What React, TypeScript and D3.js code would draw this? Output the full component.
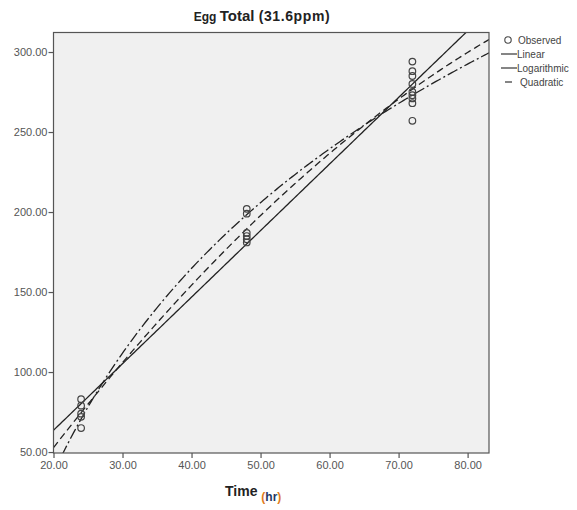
import React, { useEffect, useRef } from 'react'
import * as d3 from 'd3'

// observed egg totals
const obsTime = [24, 24, 24, 24, 24, 48, 48, 48, 48, 48, 48, 72, 72, 72, 72, 72, 72, 72, 72, 72]
const obsValue = [83, 79, 74, 72, 65, 202, 199, 187, 185, 183, 181, 294, 288, 285, 280, 275, 273, 271, 268, 257]

const xTicks = [20, 30, 40, 50, 60, 70, 80]
const yTicks = [50, 100, 150, 200, 250, 300]
const legendItems = ['Observed', 'Linear', 'Logarithmic', 'Quadratic']

// solve small linear system (gaussian elimination)
function solve(A: number[][], b: number[]) {
  const n = b.length
  const M = A.map((r, i) => [...r, b[i]])
  for (let i = 0; i < n; i++) {
    let p = i
    for (let k = i + 1; k < n; k++) if (Math.abs(M[k][i]) > Math.abs(M[p][i])) p = k
    ;[M[i], M[p]] = [M[p], M[i]]
    for (let k = i + 1; k < n; k++) {
      const f = M[k][i] / M[i][i]
      for (let j = i; j <= n; j++) M[k][j] -= f * M[i][j]
    }
  }
  const x = new Array(n).fill(0)
  for (let i = n - 1; i >= 0; i--) {
    let s = M[i][n]
    for (let j = i + 1; j < n; j++) s -= M[i][j] * x[j]
    x[i] = s / M[i][i]
  }
  return x
}

function polyFit(xs: number[], ys: number[], deg: number) {
  const A: number[][] = []
  const b: number[] = []
  for (let i = 0; i <= deg; i++) {
    A.push([])
    for (let j = 0; j <= deg; j++) A[i].push(d3.sum(xs, (x) => Math.pow(x, i + j)))
    b.push(d3.sum(xs, (x, k) => Math.pow(x, i) * ys[k]))
  }
  return solve(A, b)
}

function App() {
  const ref = useRef<SVGSVGElement>(null)

  useEffect(() => {
    const svg = d3.select(ref.current)
    svg.selectAll('*').remove()

    const left = 53.5, right = 489, top = 32.5, bottom = 453
    const x = d3.scaleLinear().domain([20, 83.1]).range([left, right])
    const y = d3.scaleLinear().domain([49.4, 312.2]).range([bottom, top])

    // title
    const title = svg.append('text')
      .attr('x', 262).attr('y', 21)
      .attr('text-anchor', 'middle')
      .style('font-family', 'Liberation Sans, Arial, sans-serif')
      .style('font-weight', 'bold')
      .style('fill', '#222')
    title.append('tspan').style('font-size', '12px').text('Egg ')
    title.append('tspan').style('font-size', '15px').text('Total ')
    title.append('tspan').style('font-size', '14px').style('letter-spacing', '0.6px').text(' (31.6ppm)')

    svg.append('defs').append('clipPath').attr('id', 'plotclip')
      .append('rect').attr('x', left).attr('y', top).attr('width', right - left).attr('height', bottom - top)

    svg.append('rect')
      .attr('x', left).attr('y', top).attr('width', right - left).attr('height', bottom - top)
      .style('fill', '#f0f0f0')

    const plot = svg.append('g').attr('clip-path', 'url(#plotclip)')

    // fits
    const lin = polyFit(obsTime, obsValue, 1)
    const quad = polyFit(obsTime, obsValue, 2)
    const logc = polyFit(obsTime.map(Math.log), obsValue, 1)
    const xs = d3.range(200).map((i) => 20 + (i / 199) * 63.1)

    const line = d3.line<number>().x((t) => x(t))
    const fits = [
      { f: (t: number) => lin[0] + lin[1] * t, dash: null },
      { f: (t: number) => logc[0] + logc[1] * Math.log(t), dash: '11,3,2,3' },
      { f: (t: number) => quad[0] + quad[1] * t + quad[2] * t * t, dash: '7,4' },
    ]
    fits.forEach((fit) => {
      plot.append('path')
        .attr('d', line.y((t) => y(fit.f(t)))(xs))
        .style('fill', 'none')
        .style('stroke', '#222')
        .style('stroke-width', 1.3)
        .style('stroke-dasharray', fit.dash)
    })

    plot.selectAll('circle.obs')
      .data(obsTime)
      .enter()
      .append('circle')
      .attr('cx', (d) => x(d))
      .attr('cy', (d, i) => y(obsValue[i]))
      .attr('r', 3.3)
      .style('fill', 'none')
      .style('stroke', '#444')
      .style('stroke-width', 1.2)

    // frame
    svg.append('rect')
      .attr('x', left).attr('y', top).attr('width', right - left).attr('height', bottom - top)
      .style('fill', 'none').style('stroke', '#555').style('stroke-width', 1.2)

    const xAxis = svg.append('g').attr('transform', `translate(0,${bottom})`)
      .call(d3.axisBottom(x).tickValues(xTicks).tickFormat(d3.format('.2f')).tickSize(5).tickSizeOuter(0))
    const yAxis = svg.append('g').attr('transform', `translate(${left},0)`)
      .call(d3.axisLeft(y).tickValues(yTicks).tickFormat(d3.format('.2f')).tickSize(5).tickSizeOuter(0))
    ;[xAxis, yAxis].forEach((a) => {
      a.select('.domain').remove()
      a.selectAll('line').style('stroke', '#555').style('stroke-width', 1.2)
      a.selectAll('text')
        .style('font-family', 'Liberation Sans, Arial, sans-serif')
        .style('font-size', '11px')
        .style('fill', '#555')
    })
    yAxis.selectAll('text').attr('x', -6).attr('dy', '0.35em')
    xAxis.selectAll('text').attr('y', 8)

    // x axis title
    const xt = svg.append('text')
      .attr('x', 225).attr('y', 496)
      .style('font-family', 'Liberation Sans, Arial, sans-serif')
      .style('font-weight', 'bold')
    xt.append('tspan').style('font-size', '14px').style('fill', '#222').text('Time ')
    xt.append('tspan').attr('dy', 5).style('font-size', '12px').style('fill', '#e07b20').text('(')
    xt.append('tspan').style('font-size', '12px').style('fill', '#1f3864').text('hr')
    xt.append('tspan').style('font-size', '12px').style('fill', '#e07b20').text(')')

    // legend
    const lg = svg.append('g').attr('transform', 'translate(499,40)')
    legendItems.forEach((name, i) => {
      const gy = i * 14
      if (i === 0) {
        lg.append('circle').attr('cx', 9).attr('cy', gy).attr('r', 3.2)
          .style('fill', 'none').style('stroke', '#444').style('stroke-width', 1.1)
      } else {
        lg.append('line')
          .attr('x1', i === 3 ? 6 : 2).attr('x2', i === 3 ? 13 : 18)
          .attr('y1', gy).attr('y2', gy)
          .style('stroke', '#333').style('stroke-width', 1.2)
      }
      lg.append('text')
        .attr('x', i === 0 ? 19 : i === 3 ? 21 : 18).attr('y', gy).attr('dy', '0.35em')
        .style('font-family', 'Liberation Sans, Arial, sans-serif')
        .style('font-size', '10px')
        .style('fill', '#444')
        .text(name)
    })
  }, [])

  return (
    <svg ref={ref} width={577} height={510}
      style={{ position: 'absolute', left: 0, top: 0, background: 'white' }} />
  )
}

export default App
